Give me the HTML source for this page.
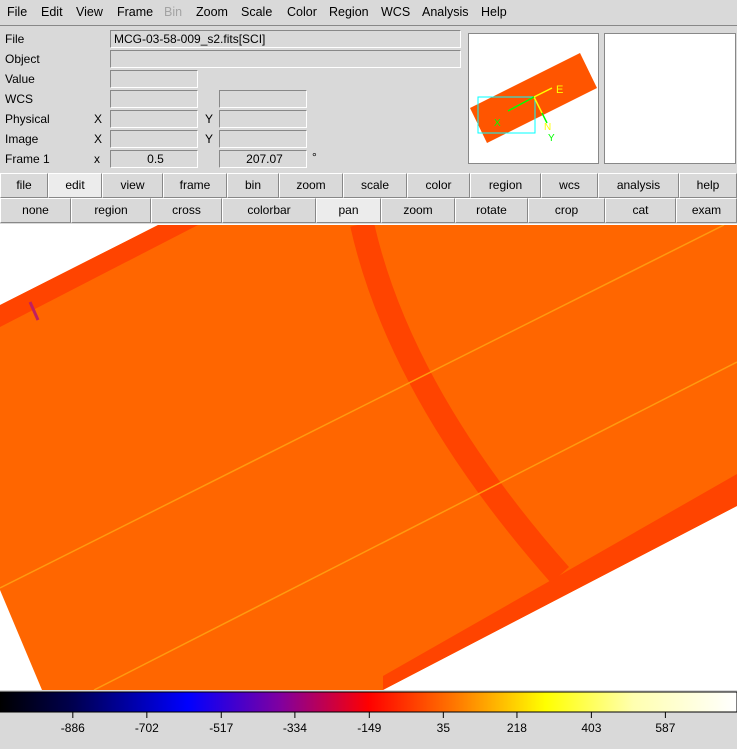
<!DOCTYPE html>
<html><head><meta charset="utf-8"><style>
*{box-sizing:border-box;margin:0;padding:0}
body{width:737px;height:749px;background:#d9d9d9;font-family:"Liberation Sans",sans-serif;font-size:12px;color:#000;position:relative;overflow:hidden}
.a{position:absolute}
.menu{left:0;top:0;width:737px;height:26px;border-bottom:1px solid #888}
.mi{top:5px;font-size:12.5px}
.lbl{font-size:12px}
.box{border:1px solid #888;border-right-color:#fff;border-bottom-color:#fff;background:#d9d9d9;height:18px;font-size:12px;padding-left:3px;line-height:16px}
.btn{height:25px;border:1px solid #fff;border-right-color:#888;border-bottom-color:#888;text-align:center;line-height:23px;font-size:12px;background:#d9d9d9}
.hl{background:#ececec}
</style></head><body>
<div class="a menu">
<span class="a mi" style="left:7px">File</span>
<span class="a mi" style="left:41px">Edit</span>
<span class="a mi" style="left:76px">View</span>
<span class="a mi" style="left:117px">Frame</span>
<span class="a mi" style="left:164px;color:#a3a3a3">Bin</span>
<span class="a mi" style="left:196px">Zoom</span>
<span class="a mi" style="left:241px">Scale</span>
<span class="a mi" style="left:287px">Color</span>
<span class="a mi" style="left:329px">Region</span>
<span class="a mi" style="left:381px">WCS</span>
<span class="a mi" style="left:422px">Analysis</span>
<span class="a mi" style="left:481px">Help</span>
</div>
<span class="a lbl" style="left:5px;top:32px">File</span>
<span class="a lbl" style="left:5px;top:52px">Object</span>
<span class="a lbl" style="left:5px;top:72px">Value</span>
<span class="a lbl" style="left:5px;top:92px">WCS</span>
<span class="a lbl" style="left:5px;top:112px">Physical</span>
<span class="a lbl" style="left:5px;top:132px">Image</span>
<span class="a lbl" style="left:5px;top:152px">Frame 1</span>
<span class="a lbl" style="left:94px;top:112px">X</span><span class="a lbl" style="left:94px;top:132px">X</span><span class="a lbl" style="left:94px;top:152px">x</span>
<span class="a lbl" style="left:205px;top:112px">Y</span><span class="a lbl" style="left:205px;top:132px">Y</span><span class="a lbl" style="left:312px;top:150px">°</span>
<div class="a box" style="left:110px;top:30px;width:351px">MCG-03-58-009_s2.fits[SCI]</div>
<div class="a box" style="left:110px;top:50px;width:351px"></div>
<div class="a box" style="left:110px;top:70px;width:88px"></div>
<div class="a box" style="left:110px;top:90px;width:88px"></div>
<div class="a box" style="left:219px;top:90px;width:88px"></div>
<div class="a box" style="left:110px;top:110px;width:88px"></div>
<div class="a box" style="left:219px;top:110px;width:88px"></div>
<div class="a box" style="left:110px;top:130px;width:88px"></div>
<div class="a box" style="left:219px;top:130px;width:88px"></div>
<div class="a box" style="left:110px;top:150px;width:88px;text-align:center">0.5</div>
<div class="a box" style="left:219px;top:150px;width:88px;text-align:center">207.07</div>
<svg class="a" style="left:468px;top:33px" width="131" height="131">
<rect x="0.5" y="0.5" width="130" height="130" fill="#fff" stroke="#888"/>
<polygon points="2,75 112,20 129,55 19,110" fill="#ff5500"/>
<rect x="10" y="64" width="57" height="36" fill="none" stroke="#0ff"/>
<line x1="66" y1="64" x2="84" y2="55" stroke="#ff0" stroke-width="1.5"/>
<line x1="66" y1="64" x2="74" y2="80" stroke="#ff0" stroke-width="1.5"/>
<line x1="66" y1="64" x2="40" y2="78" stroke="#0f0" stroke-width="1.5"/>
<line x1="74" y1="80" x2="79" y2="90" stroke="#0f0" stroke-width="1.5"/>
<text x="88" y="60" fill="#ff0" font-size="11" font-family="Liberation Sans">E</text>
<text x="76" y="97" fill="#ff0" font-size="10" font-family="Liberation Sans">N</text>
<text x="26" y="93" fill="#0f0" font-size="10" font-family="Liberation Sans">X</text>
<text x="80" y="108" fill="#0f0" font-size="10" font-family="Liberation Sans">Y</text>
</svg>
<svg class="a" style="left:604px;top:33px" width="132" height="131"><rect x="0.5" y="0.5" width="131" height="130" fill="#fff" stroke="#888"/></svg>
<div>
<div class="a btn" style="left:0;top:173px;width:48px">file</div>
<div class="a btn hl" style="left:48px;top:173px;width:54px">edit</div>
<div class="a btn" style="left:102px;top:173px;width:61px">view</div>
<div class="a btn" style="left:163px;top:173px;width:64px">frame</div>
<div class="a btn" style="left:227px;top:173px;width:52px">bin</div>
<div class="a btn" style="left:279px;top:173px;width:64px">zoom</div>
<div class="a btn" style="left:343px;top:173px;width:64px">scale</div>
<div class="a btn" style="left:407px;top:173px;width:63px">color</div>
<div class="a btn" style="left:470px;top:173px;width:71px">region</div>
<div class="a btn" style="left:541px;top:173px;width:57px">wcs</div>
<div class="a btn" style="left:598px;top:173px;width:81px">analysis</div>
<div class="a btn" style="left:679px;top:173px;width:58px">help</div>
<div class="a btn" style="left:0;top:198px;width:71px">none</div>
<div class="a btn" style="left:71px;top:198px;width:80px">region</div>
<div class="a btn" style="left:151px;top:198px;width:71px">cross</div>
<div class="a btn" style="left:222px;top:198px;width:94px">colorbar</div>
<div class="a btn hl" style="left:316px;top:198px;width:65px">pan</div>
<div class="a btn" style="left:381px;top:198px;width:74px">zoom</div>
<div class="a btn" style="left:455px;top:198px;width:73px">rotate</div>
<div class="a btn" style="left:528px;top:198px;width:77px">crop</div>
<div class="a btn" style="left:605px;top:198px;width:71px">cat</div>
<div class="a btn" style="left:676px;top:198px;width:61px">exam</div>
</div>
<svg class="a" style="left:0;top:224px" width="737" height="525">
<defs>
<clipPath id="cp"><polygon points="0,81 158,1 737,1 737,282 383,466 42,466 0,366"/></clipPath>
<linearGradient id="cb" x1="0" x2="1" y1="0" y2="0">
<stop offset="0" stop-color="#000"/><stop offset="0.1" stop-color="#000050"/><stop offset="0.255" stop-color="#0000ff"/><stop offset="0.38" stop-color="#8000a0"/><stop offset="0.5" stop-color="#ff0000"/><stop offset="0.62" stop-color="#ff7a00"/><stop offset="0.74" stop-color="#ffff00"/><stop offset="0.86" stop-color="#ffffb0"/><stop offset="1" stop-color="#fff"/>
</linearGradient>
</defs>
<rect x="0" y="0" width="737" height="466" fill="#fff"/>
<g clip-path="url(#cp)">
<rect x="0" y="0" width="737" height="466" fill="#ff6600"/>
<polygon points="0,81 158,1 198,1 0,103" fill="#ff4400"/>
<polygon points="383,466 737,282 737,250 569,346 383,452" fill="#ff4400"/>
<line x1="30" y1="78" x2="38" y2="96" stroke="#c02060" stroke-width="3"/>
<path d="M362,0 Q400,170 560,351" stroke="#ff4400" stroke-width="24" fill="none"/>
<line x1="0" y1="364" x2="724" y2="1" stroke="#ff9a10" stroke-width="1.5"/>
<line x1="94" y1="466" x2="737" y2="138" stroke="#ff9a10" stroke-width="1.5"/>
</g>
<rect x="0" y="468" width="737" height="20" fill="url(#cb)" stroke="#000" stroke-width="1"/>
<g id="ticks"></g>
</svg>
<script>
const tickValues=[-886,-702,-517,-334,-149,35,218,403,587];
const cbMin=-1067, cbMax=765;
const g=document.getElementById('ticks');
const NS='http://www.w3.org/2000/svg';
function xs(v){return (v-cbMin)/(cbMax-cbMin)*737;}
tickValues.forEach(v=>{
  const x=xs(v);
  const l=document.createElementNS(NS,'line');
  l.setAttribute('x1',x);l.setAttribute('x2',x);l.setAttribute('y1',488);l.setAttribute('y2',494);l.setAttribute('stroke','#000');
  
  
  g.appendChild(l);
  const t=document.createElementNS(NS,'text');
  t.setAttribute('x',x);t.setAttribute('y',508);t.setAttribute('text-anchor','middle');t.setAttribute('font-size','12');t.setAttribute('font-family','Liberation Sans, sans-serif');
  t.textContent=v;
  
  
  g.appendChild(t);
});
</script>
</body></html>
